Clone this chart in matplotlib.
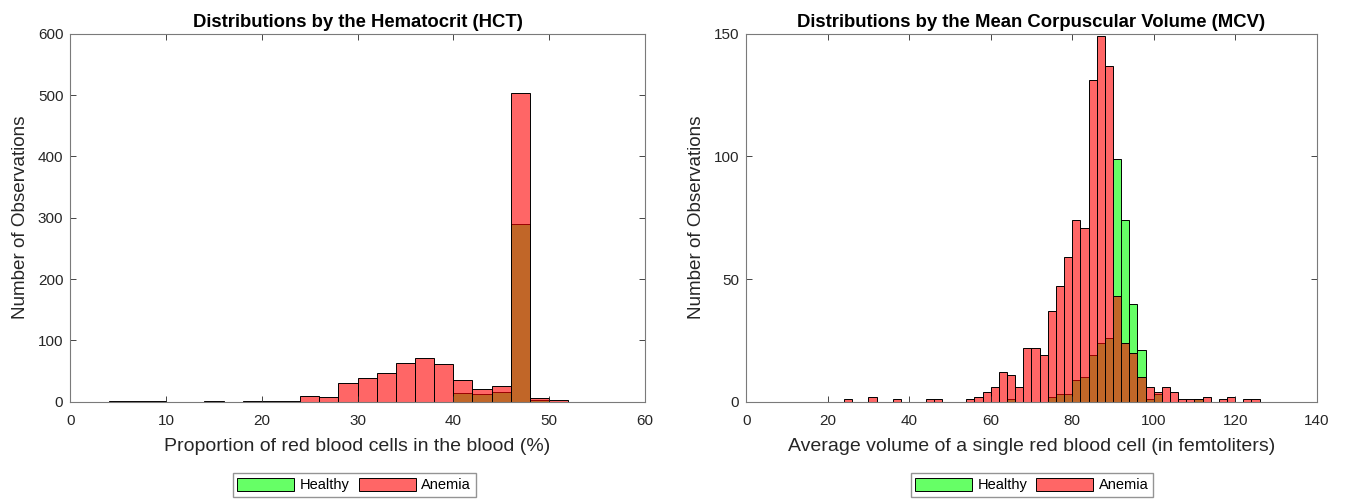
import numpy as np
import matplotlib
matplotlib.use('Agg')
from matplotlib import pyplot as plt
from matplotlib.patches import Patch

plt.rcParams['font.family'] = ['Liberation Sans', 'DejaVu Sans']

# Hematocrit (%), bins of width 2 starting at 2
HCT_EDGES = np.arange(2, 56, 2)
HCT_HEALTHY = [0, 0, 0, 0, 0, 0, 0, 0, 0, 0, 0, 0, 0, 0, 0, 0, 0, 0, 0,
               14, 13, 15, 289, 2, 0, 0]
HCT_ANEMIA = [0, 1, 1, 1, 0, 0, 1, 0, 1, 1, 1, 10, 7, 30, 39, 47, 63, 72, 61,
              36, 21, 25, 503, 6, 2, 0]

# Mean corpuscular volume (fL), bins of width 2 starting at 24
MCV_EDGES = np.arange(24, 128, 2)
MCV_HEALTHY = [0, 0, 0, 0, 0, 0, 0, 0, 0, 0, 0, 0, 0, 0, 0, 0, 0, 0, 0, 0,
               1, 0, 0, 0, 0, 2, 3, 3, 9, 10, 19, 24, 26, 99, 74, 40, 21, 1,
               3, 0, 0, 0, 0, 1, 0, 0, 0, 0, 0, 0, 0]
MCV_ANEMIA = [1, 0, 0, 2, 0, 0, 1, 0, 0, 0, 1, 1, 0, 0, 0, 1, 2, 4, 6, 12,
              11, 6, 22, 22, 19, 37, 47, 59, 74, 71, 131, 149, 137, 43, 24,
              20, 10, 6, 4, 6, 4, 1, 1, 1, 2, 0, 1, 2, 0, 1, 1]

GREEN = (0.0, 1.0, 0.0, 0.6)
RED = (1.0, 0.0, 0.0, 0.6)
AX_COLOR = '#262626'


def draw_hist(ax, edges, healthy, anemia, title, xlabel, xlim, ylim, yticks):
    widths = np.diff(edges)
    # healthy first, anemia over it -> overlap turns brown
    for counts, color in ((healthy, GREEN), (anemia, RED)):
        ax.bar(edges[:-1], counts, width=widths, align='edge', color=color,
               edgecolor='black', linewidth=0.7)
    ax.set_xlim(*xlim)
    ax.set_ylim(*ylim)
    ax.set_yticks(yticks)
    ax.set_title(title, fontsize=13.3, fontweight='bold', pad=5)
    ax.set_xlabel(xlabel, fontsize=14, color=AX_COLOR, labelpad=7)
    ax.set_ylabel('Number of Observations', fontsize=13.6, color=AX_COLOR,
                  labelpad=6.5)
    ax.tick_params(direction='in', top=True, right=True, labelsize=11,
                   colors=AX_COLOR, length=4, width=0.6)
    ax.tick_params(axis='x', pad=9)
    ax.tick_params(axis='y', pad=5)
    for s in ax.spines.values():
        s.set_color('#7a7a7a')
        s.set_linewidth(0.8)


fig = plt.figure(figsize=(13.47, 4.99), dpi=100)
ax1 = fig.add_axes([0.0522, 0.195, 0.4265, 0.7375])
ax2 = fig.add_axes([0.554, 0.195, 0.4235, 0.7375])

draw_hist(ax1, HCT_EDGES, HCT_HEALTHY, HCT_ANEMIA,
          'Distributions by the Hematocrit (HCT)',
          'Proportion of red blood cells in the blood (%)',
          (0, 60), (0, 600), np.arange(0, 601, 100))
draw_hist(ax2, MCV_EDGES, MCV_HEALTHY, MCV_ANEMIA,
          'Distributions by the Mean Corpuscular Volume (MCV)',
          'Average volume of a single red blood cell (in femtoliters)',
          (0, 140), (0, 150), np.arange(0, 151, 50))

handles = [Patch(facecolor=GREEN, edgecolor='black', linewidth=0.7),
           Patch(facecolor=RED, edgecolor='black', linewidth=0.7)]
for cx in (0.263, 0.766):
    fig.legend(handles, ['Healthy', 'Anemia'], loc='center',
               bbox_to_anchor=(cx, 0.028), ncol=2, fontsize=10.5,
               frameon=True, fancybox=False, edgecolor='#7a7a7a',
               handlelength=3.9, handleheight=1.0, columnspacing=0.6,
               handletextpad=0.4, borderpad=0.3, borderaxespad=0)

fig.savefig('out.png', dpi=100)
